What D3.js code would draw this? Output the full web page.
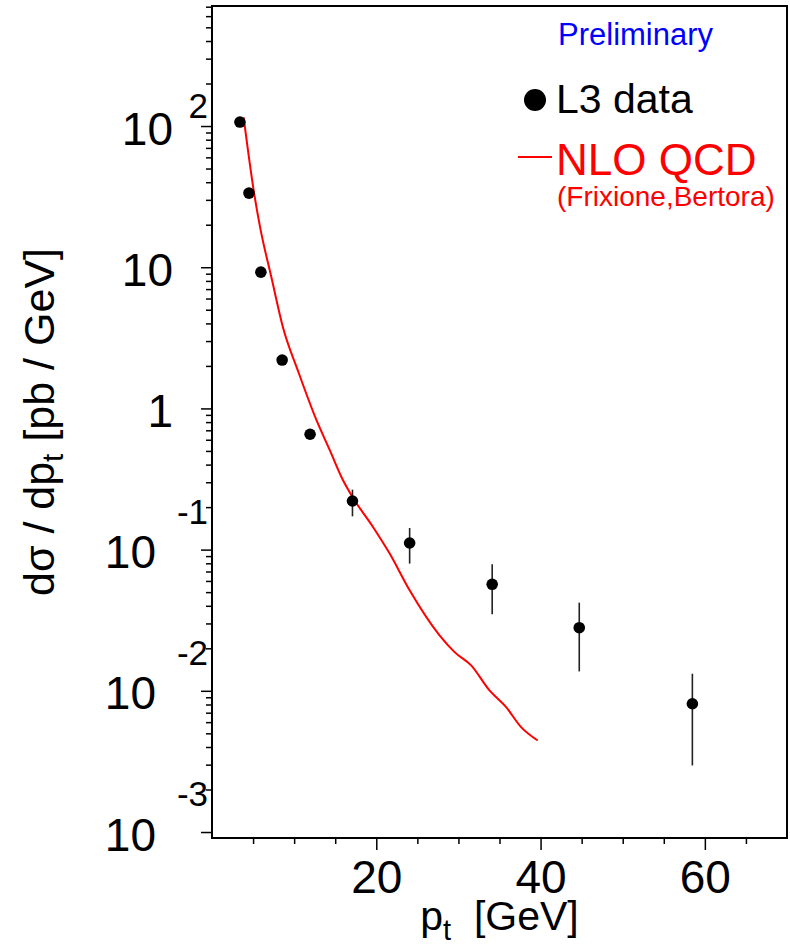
<!DOCTYPE html>
<html>
<head>
<meta charset="utf-8">
<script src="https://cdn.jsdelivr.net/npm/d3@7"></script>
<style>
  body { margin: 0; background: #fff; }
  text { font-family: "Liberation Sans", Arial, Helvetica, sans-serif; }
</style>
</head>
<body>
<div id="chart"></div>
<script>
// L3 inclusive cross section vs pt, NLO QCD comparison

// data points (pt in GeV, dsigma/dpt in pb/GeV)
var ptData    = [3.4, 4.5, 5.95, 8.54, 11.94, 17.1, 24.06, 34.11, 44.71, 58.48];
var sigmaData = [106.7, 33.5, 9.23, 2.20, 0.656, 0.221, 0.1114, 0.0568, 0.0280, 0.0081];
var lowData   = [101, 31.8, 8.8, 2.10, 0.63, 0.172, 0.0796, 0.0348, 0.01372, 0.00296];
var highData  = [112, 35.2, 9.7, 2.30, 0.68, 0.266, 0.1422, 0.0787, 0.0421, 0.01322];

// NLO QCD curve
var nloPt    = [3.85, 5.15, 5.84, 7.25, 8.66, 10.49, 12.72, 14.34, 15.95, 17.1, 19.6,
                21.63, 24.06, 27.7, 29.53, 31.55, 33.78, 35.81, 37.63, 39.65];
var nloSigma = [115.3, 32.8, 19.4, 8.38, 3.71, 1.83, 0.825, 0.506, 0.31, 0.236, 0.1446,
                0.0937, 0.0515, 0.0247, 0.0188, 0.01514, 0.01006, 0.00766, 0.00553, 0.00445];

// axis ticks
var xMajor = [20, 40, 60];
var xMinor = [5, 10, 15, 25, 30, 35, 45, 50, 55, 65];
var yExp   = [-3, -2, -1, 0, 1, 2];
var yLabelBase = ["10", "10", "10", "1", "10", "10"];
var yLabelSup  = ["-3", "-2", "-1", "", "", "2"];

var svgWidth = 790;
var svgHeight = 948;

var frame = { left: 212, right: 787, top: 6, bottom: 838 };

var svg = d3.select("#chart")
  .append("svg")
  .attr("width", svgWidth)
  .attr("height", svgHeight);

var xScale = d3.scaleLinear()
  .domain([0, 70])
  .range([frame.left, frame.right]);

var yScale = d3.scaleLog()
  .domain([9.07e-4, 708])
  .range([frame.bottom, frame.top]);

// minor log ticks 2..9 per decade
var yMinor = [];
for (var e = -4; e <= 2; e++) {
  for (var m = 2; m <= 9; m++) {
    var v = m * Math.pow(10, e);
    if (v >= yScale.domain()[0] && v <= yScale.domain()[1]) yMinor.push(v);
  }
}

// x axis
svg.append("g")
  .attr("transform", `translate(0, ${frame.bottom})`)
  .call(d3.axisBottom(xScale).tickValues(xMinor).tickSize(6).tickSizeOuter(0).tickFormat(""))
  .call(g => g.select(".domain").remove())
  .selectAll("line").attr("stroke-width", 1.5);

var xAxis = svg.append("g")
  .attr("transform", `translate(0, ${frame.bottom})`)
  .call(d3.axisBottom(xScale).tickValues(xMajor).tickSize(12).tickSizeOuter(0).tickPadding(10));
xAxis.select(".domain").remove();
xAxis.selectAll("line").attr("stroke-width", 1.5);
xAxis.selectAll("text")
  .attr("font-size", "46px")
  .attr("fill", "black");

// y axis
svg.append("g")
  .attr("transform", `translate(${frame.left}, 0)`)
  .call(d3.axisLeft(yScale).tickValues(yMinor).tickSize(6).tickSizeOuter(0).tickFormat(""))
  .call(g => g.select(".domain").remove())
  .selectAll("line").attr("stroke-width", 1.5);

svg.append("g")
  .attr("transform", `translate(${frame.left}, 0)`)
  .call(d3.axisLeft(yScale).tickValues(yExp.map(d => Math.pow(10, d))).tickSize(11).tickSizeOuter(0).tickFormat(""))
  .call(g => g.select(".domain").remove())
  .selectAll("line").attr("stroke-width", 1.5);

// y tick labels, ROOT style 10 with exponent
var yLabels = svg.append("g").selectAll("g")
  .data(yExp)
  .enter()
  .append("g");

yLabels.append("text")
  .attr("x", function(d, i) { return yLabelSup[i].charAt(0) == "-" ? 156 : 173; })
  .attr("y", function(d) { return yScale(Math.pow(10, d)) + 18.5; })
  .attr("text-anchor", "end")
  .attr("font-size", "46px")
  .text(function(d, i) { return yLabelBase[i]; });

yLabels.append("text")
  .attr("x", 208)
  .attr("y", function(d, i) { return yScale(Math.pow(10, d)) + (yLabelSup[i].charAt(0) == "-" ? -26 : -8); })
  .attr("text-anchor", "end")
  .attr("font-size", "35px")
  .text(function(d, i) { return yLabelSup[i]; });

// frame
svg.append("rect")
  .attr("x", frame.left)
  .attr("y", frame.top)
  .attr("width", frame.right - frame.left)
  .attr("height", frame.bottom - frame.top)
  .attr("fill", "none")
  .attr("stroke", "black")
  .attr("stroke-width", 2);

// axis titles
var yTitle = svg.append("text")
  .attr("transform", `translate(54, ${(frame.top + frame.bottom) / 2}) rotate(-90)`)
  .attr("text-anchor", "middle")
  .attr("font-size", "43px");
yTitle.append("tspan").text("dσ / dp");
yTitle.append("tspan").attr("font-size", "30px").attr("dy", 9).text("t");
yTitle.append("tspan").attr("dy", -9).text(" [pb / GeV]");

var xTitle = svg.append("text")
  .attr("x", (frame.left + frame.right) / 2)
  .attr("y", 930)
  .attr("text-anchor", "middle")
  .attr("font-size", "41px")
  .attr("xml:space", "preserve");
xTitle.append("tspan").text("p");
xTitle.append("tspan").attr("font-size", "29px").attr("dy", 10).text("t");
xTitle.append("tspan").attr("dy", -10).text("  [GeV]");

// NLO curve
var nloLine = d3.line()
  .x(function(d, i) { return xScale(nloPt[i]); })
  .y(function(d) { return yScale(d); })
  .curve(d3.curveMonotoneX);

svg.append("path")
  .datum(nloSigma)
  .attr("d", nloLine)
  .attr("fill", "none")
  .attr("stroke", "#ff0000")
  .attr("stroke-width", 2);

// error bars
svg.append("g")
  .selectAll("line")
  .data(ptData)
  .enter()
  .append("line")
  .attr("x1", function(d) { return xScale(d); })
  .attr("x2", function(d) { return xScale(d); })
  .attr("y1", function(d, i) { return yScale(lowData[i]); })
  .attr("y2", function(d, i) { return yScale(highData[i]); })
  .attr("stroke", "#222")
  .attr("stroke-width", 1.6);

// data points
svg.append("g")
  .selectAll("circle")
  .data(ptData)
  .enter()
  .append("circle")
  .attr("cx", function(d) { return xScale(d); })
  .attr("cy", function(d, i) { return yScale(sigmaData[i]); })
  .attr("r", 5.8)
  .attr("fill", "black");

// labels and legend
svg.append("text")
  .attr("x", 558)
  .attr("y", 45)
  .attr("font-size", "31px")
  .attr("fill", "#0000ff")
  .text("Preliminary");

svg.append("circle")
  .attr("cx", 535)
  .attr("cy", 100)
  .attr("r", 11)
  .attr("fill", "black");

svg.append("text")
  .attr("x", 556)
  .attr("y", 113)
  .attr("font-size", "41px")
  .text("L3 data");

svg.append("line")
  .attr("x1", 518)
  .attr("x2", 552)
  .attr("y1", 157)
  .attr("y2", 157)
  .attr("stroke", "#ff0000")
  .attr("stroke-width", 2);

svg.append("text")
  .attr("x", 556)
  .attr("y", 175)
  .attr("font-size", "44px")
  .attr("fill", "#ff0000")
  .text("NLO QCD");

svg.append("text")
  .attr("x", 557)
  .attr("y", 206)
  .attr("font-size", "28px")
  .attr("fill", "#ff0000")
  .text("(Frixione,Bertora)");
</script>
</body>
</html>
